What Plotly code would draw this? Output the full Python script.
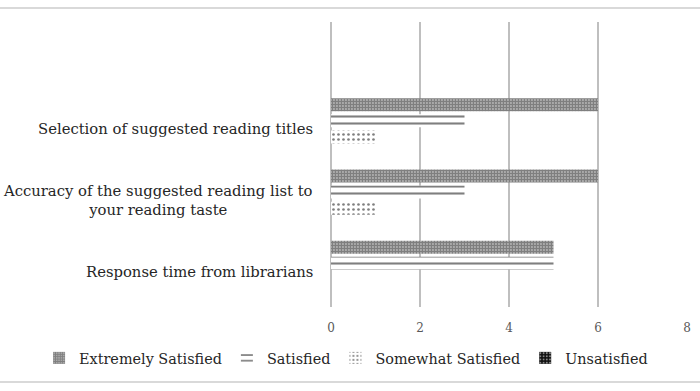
import plotly.graph_objects as go

categories = ["Response time from librarians",
              "Accuracy of the suggested reading list to<br>your reading taste",
              "Selection of suggested reading titles"]
series_names = ["Extremely Satisfied", "Satisfied", "Somewhat Satisfied", "Unsatisfied"]
extremely_satisfied = [5, 6, 6]
satisfied = [5, 3, 3]
somewhat_satisfied = [0, 1, 1]
unsatisfied = [0, 0, 0]
x_ticks = [0, 2, 4, 6, 8]

FONT = "DejaVu Serif"
values = [extremely_satisfied, satisfied, somewhat_satisfied, unsatisfied]
patterns = [
    dict(shape=".", size=3, solidity=0.8, fgcolor="#000000", bgcolor="#ffffff", fillmode="overlay"),
    dict(shape="-", size=7, solidity=0.3, fgcolor="#000000", bgcolor="#ffffff", fillmode="overlay"),
    dict(shape=".", size=5, solidity=0.22, fgcolor="#000000", bgcolor="#ffffff", fillmode="overlay"),
    dict(shape=".", size=4, solidity=0.3, fgcolor="#ffffff", bgcolor="#111111", fillmode="overlay"),
]

fig = go.Figure()
for i in reversed(range(4)):
    fig.add_trace(go.Bar(
        y=categories, x=values[i], name=series_names[i], orientation="h",
        marker=dict(color="#ffffff", line=dict(width=0), pattern=patterns[i]),
    ))

for c in categories:
    fig.add_annotation(
        x=0, xref="paper", y=c, yref="y", xanchor="right", xshift=-16,
        text=c, showarrow=False, align="center",
        font=dict(family=FONT, size=14.8, color="#262626"),
    )

fig.add_shape(type="rect", xref="paper", yref="paper",
              x0=-1.5, x1=1.5, y0=-0.263, y1=1.049,
              line=dict(color="#D9D9D9", width=2), fillcolor="rgba(0,0,0,0)", layer="below")

fig.update_layout(
    width=700, height=391,
    margin=dict(l=331, r=13, t=22, b=84, autoexpand=False),
    paper_bgcolor="#ffffff", plot_bgcolor="#ffffff",
    barmode="group", bargap=0.1, bargroupgap=0.19,
    showlegend=True,
    legend=dict(orientation="h", traceorder="reversed", x=-0.82, xanchor="left",
                y=-0.179, yanchor="middle", itemwidth=30, tracegroupgap=0,
                font=dict(family=FONT, size=14.4, color="#262626")),
    xaxis=dict(range=[0, 8], tickvals=x_ticks, showgrid=True, gridcolor="#BFBFBF", gridwidth=1.5,
               zeroline=True, zerolinecolor="#BFBFBF", zerolinewidth=1.5, showline=False,
               ticks="outside", ticklen=10, tickcolor="rgba(0,0,0,0)",
               tickfont=dict(family=FONT, size=12, color="#595959")),
    yaxis=dict(type="category", categoryorder="array", categoryarray=categories,
               range=[-0.5, 3.5], showticklabels=False, showgrid=False, zeroline=False, showline=False),
)

fig.write_html("out.html")
